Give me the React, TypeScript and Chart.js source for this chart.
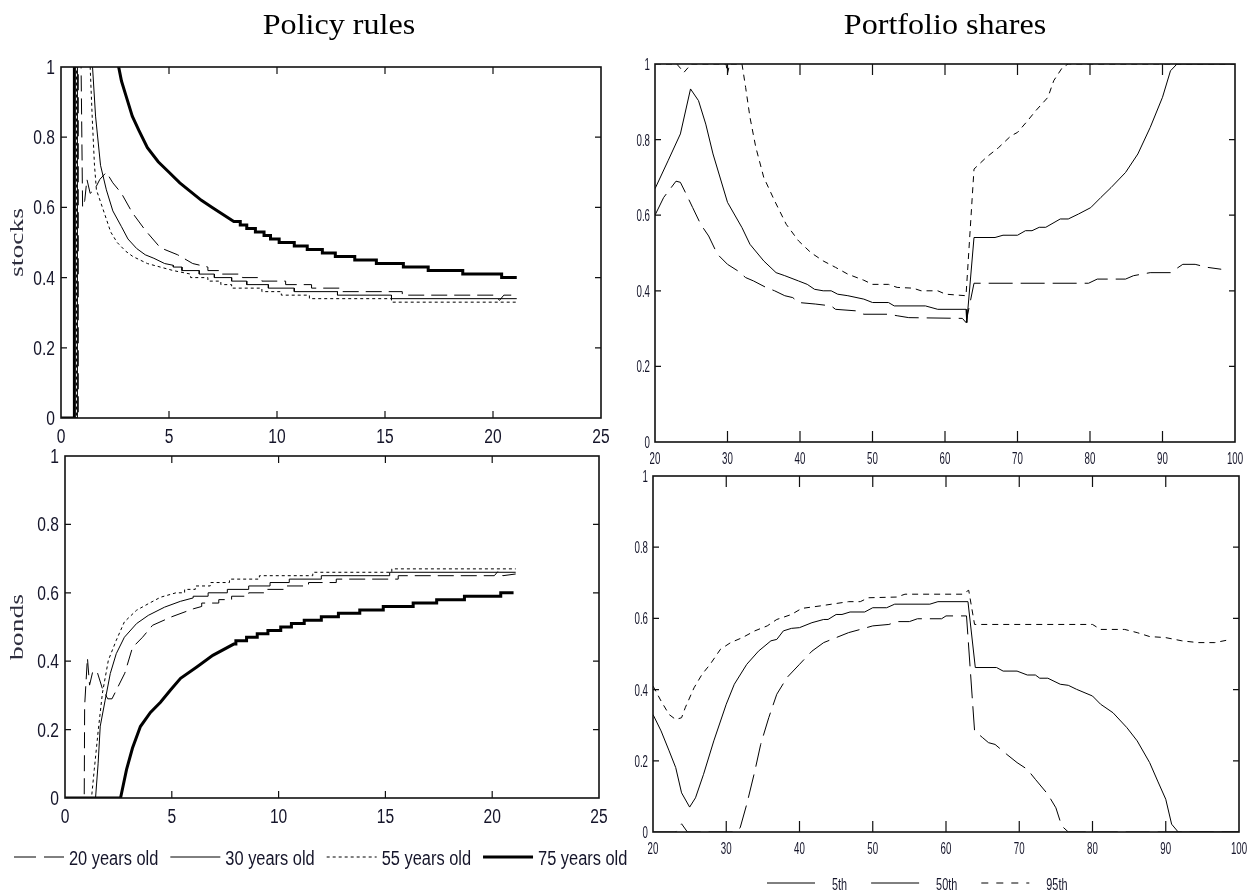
import React, { useEffect, useRef } from "react";
import { Chart, registerables } from "chart.js";

Chart.register(...registerables);

type P = [number, number];

// ---------------- data ----------------
const policyXTicks = [0, 5, 10, 15, 20, 25];
const policyXTickLabels = ["0", "5", "10", "15", "20", "25"];
const ageTicks = [20, 30, 40, 50, 60, 70, 80, 90, 100];
const ageTickLabels = ["20", "30", "40", "50", "60", "70", "80", "90", "100"];
const shareTicks = [0, 0.2, 0.4, 0.6, 0.8, 1];
const shareTickLabels = ["0", "0.2", "0.4", "0.6", "0.8", "1"];

const policyLabels = ["20 years old", "30 years old", "55 years old", "75 years old"];
const percentileLabels = ["5th", "50th", "95th"];
const panelTitles = ["Policy rules", "Portfolio shares"];
const policyYTitles = ["stocks", "bonds"];

const stocks20: P[] = [[0,0],[0.8,0],[0.8,1.05],[0.9,1.05],[0.93,1.0],[1.0,0.6],[1.1,0.62],[1.2,0.68],[1.35,0.64],[1.55,0.65],[1.8,0.68],[2.1,0.7],[2.4,0.67],[2.8,0.64],[3.3,0.585],[3.9,0.535],[4.6,0.485],[5.4,0.465],[6.1,0.44],[6.8,0.43],[6.8,0.42],[7.4,0.42],[7.4,0.41],[8.4,0.41],[8.4,0.4],[9.3,0.4],[9.3,0.39],[10.4,0.39],[10.4,0.38],[11.6,0.38],[11.6,0.37],[13.0,0.37],[13.0,0.36],[15.8,0.36],[15.8,0.35],[20.1,0.35],[20.3,0.335],[20.5,0.35],[21.1,0.35]];
const stocks30: P[] = [[0,0],[0.76,0],[0.76,1.05],[1.4,1.05],[1.46,1.0],[1.6,0.86],[1.83,0.72],[2.1,0.65],[2.4,0.59],[2.8,0.545],[3.1,0.51],[3.5,0.483],[3.9,0.465],[4.3,0.455],[4.8,0.44],[5.2,0.435],[5.2,0.43],[5.6,0.43],[5.6,0.42],[6.4,0.42],[6.4,0.41],[7.1,0.41],[7.1,0.4],[7.9,0.4],[7.9,0.39],[8.6,0.39],[8.6,0.38],[9.6,0.38],[9.6,0.37],[10.8,0.37],[10.8,0.36],[12.8,0.36],[12.8,0.35],[15.3,0.35],[15.3,0.34],[21.1,0.34]];
const stocks55: P[] = [[0,0],[0.72,0],[0.72,1.05],[1.3,1.05],[1.35,1.0],[1.45,0.85],[1.55,0.72],[1.64,0.65],[2.0,0.585],[2.3,0.53],[2.6,0.5],[3.0,0.475],[3.33,0.46],[4.0,0.44],[4.6,0.43],[5.2,0.42],[6.0,0.41],[6.0,0.4],[6.8,0.4],[6.8,0.39],[7.4,0.39],[7.4,0.38],[7.9,0.38],[7.9,0.37],[9.3,0.37],[9.3,0.36],[10.2,0.36],[10.2,0.35],[11.5,0.35],[11.5,0.34],[15.3,0.34],[15.3,0.33],[21.1,0.33]];
const stocks75: P[] = [[0,0],[0.62,0],[0.62,1.05],[2.6,1.05],[2.67,1.0],[2.8,0.96],[3.0,0.92],[3.3,0.86],[3.6,0.82],[4.0,0.77],[4.5,0.73],[5.0,0.7],[5.5,0.67],[6.0,0.645],[6.5,0.62],[7.0,0.6],[7.5,0.58],[8.0,0.56],[8.3,0.56],[8.3,0.55],[8.6,0.55],[8.6,0.54],[9.0,0.54],[9.0,0.53],[9.4,0.53],[9.4,0.52],[9.7,0.52],[9.7,0.51],[10.1,0.51],[10.1,0.5],[10.8,0.5],[10.8,0.49],[11.4,0.49],[11.4,0.48],[12.1,0.48],[12.1,0.47],[12.7,0.47],[12.7,0.46],[13.6,0.46],[13.6,0.45],[14.6,0.45],[14.6,0.44],[15.85,0.44],[15.85,0.43],[17.0,0.43],[17.0,0.42],[18.6,0.42],[18.6,0.41],[20.4,0.41],[20.4,0.4],[21.1,0.4]];

const bonds20: P[] = [[0,0],[0.9,0],[0.92,0.27],[1.05,0.41],[1.15,0.33],[1.3,0.37],[1.5,0.37],[1.75,0.32],[2.0,0.29],[2.2,0.29],[2.4,0.315],[2.8,0.365],[3.16,0.44],[3.63,0.47],[4.1,0.505],[5.0,0.53],[6.0,0.553],[6.4,0.56],[6.4,0.57],[7.2,0.57],[7.2,0.58],[7.8,0.58],[7.8,0.59],[8.6,0.59],[8.6,0.6],[9.4,0.6],[9.4,0.61],[10.3,0.61],[10.3,0.62],[11.4,0.62],[11.4,0.63],[12.7,0.63],[12.7,0.64],[15.6,0.64],[15.6,0.65],[20.1,0.65],[20.3,0.665],[20.5,0.65],[21.1,0.655]];
const bonds30: P[] = [[0,0],[1.43,0],[1.55,0.1],[1.65,0.21],[1.88,0.286],[2.12,0.364],[2.4,0.422],[2.78,0.47],[3.35,0.51],[3.9,0.534],[4.66,0.558],[5.4,0.575],[6.0,0.585],[6.0,0.59],[6.7,0.59],[6.7,0.6],[7.6,0.6],[7.6,0.61],[8.6,0.61],[8.6,0.62],[9.6,0.62],[9.6,0.63],[10.5,0.63],[10.5,0.64],[12.0,0.64],[12.0,0.65],[15.2,0.65],[15.2,0.66],[21.1,0.66]];
const bonds55: P[] = [[0,0],[1.24,0],[1.37,0.083],[1.56,0.2],[1.75,0.306],[2.03,0.403],[2.4,0.461],[2.78,0.515],[3.35,0.549],[3.9,0.568],[4.47,0.587],[5.2,0.6],[5.6,0.6],[5.6,0.61],[6.1,0.61],[6.1,0.62],[6.8,0.62],[6.8,0.63],[7.7,0.63],[7.7,0.64],[9.1,0.64],[9.1,0.65],[11.6,0.65],[11.6,0.66],[15.3,0.66],[15.3,0.67],[21.1,0.67]];
const bonds75: P[] = [[0,0],[2.6,0],[2.88,0.083],[3.16,0.146],[3.53,0.209],[4.0,0.25],[4.47,0.28],[4.94,0.316],[5.41,0.35],[6.17,0.383],[6.92,0.417],[7.9,0.45],[8.0,0.45],[8.0,0.46],[8.5,0.46],[8.5,0.47],[9.0,0.47],[9.0,0.48],[9.5,0.48],[9.5,0.49],[10.1,0.49],[10.1,0.5],[10.6,0.5],[10.6,0.51],[11.2,0.51],[11.2,0.52],[12.0,0.52],[12.0,0.53],[12.8,0.53],[12.8,0.54],[13.8,0.54],[13.8,0.55],[14.9,0.55],[14.9,0.56],[16.3,0.56],[16.3,0.57],[17.4,0.57],[17.4,0.58],[18.7,0.58],[18.7,0.59],[20.4,0.59],[20.4,0.6],[21.0,0.6]];

const p5Stocks: P[] = [[20,0.6],[21.2,0.647],[22.9,0.69],[23.5,0.687],[24.3,0.656],[25.2,0.62],[26.3,0.576],[27.4,0.545],[28.6,0.497],[30,0.47],[31.4,0.453],[32.5,0.435],[33.6,0.426],[35.3,0.409],[36.5,0.4],[37.9,0.387],[39,0.382],[39.8,0.369],[42.1,0.365],[44.3,0.36],[44.9,0.351],[47.7,0.347],[48.8,0.338],[52.2,0.338],[53.4,0.334],[55,0.329],[62.4,0.327],[62.9,0.316],[64,0.42],[79.8,0.42],[81,0.431],[84.9,0.431],[86,0.44],[88.3,0.448],[91.1,0.448],[92.8,0.47],[94.5,0.47],[96.2,0.462],[98.1,0.457]];
const p50Stocks: P[] = [[20,0.67],[21.8,0.744],[23.5,0.815],[24.9,0.934],[26,0.903],[27,0.841],[28,0.762],[30,0.634],[32,0.567],[33.1,0.523],[35,0.479],[36.7,0.448],[37.9,0.44],[39.8,0.426],[41,0.417],[42,0.404],[43.2,0.4],[44.3,0.4],[45.2,0.391],[46.6,0.387],[48.8,0.378],[50,0.369],[52.2,0.369],[53,0.36],[57.3,0.36],[59,0.351],[62.9,0.351],[63,0.316],[64,0.541],[66.9,0.541],[68,0.547],[70,0.547],[71.1,0.559],[72,0.559],[73,0.568],[73.9,0.568],[75.9,0.59],[77,0.59],[78.4,0.603],[80.1,0.62],[81.5,0.647],[82.9,0.673],[84.9,0.713],[86.6,0.762],[88.3,0.832],[90,0.912],[91.1,0.982],[92,1.0],[100,1.0]];
const p95Stocks: P[] = [[20,1.0],[23,1.0],[24,0.978],[25,1.0],[29.8,1.0],[30,0.975],[30.3,1.0],[32,1.0],[32.5,0.938],[33.1,0.859],[33.9,0.78],[35,0.7],[36.5,0.638],[38.1,0.576],[39.8,0.532],[41.5,0.501],[43.2,0.479],[44.9,0.462],[46.6,0.444],[48.8,0.428],[50,0.417],[52.2,0.417],[53.4,0.409],[55.6,0.407],[56.7,0.4],[59,0.4],[60.1,0.391],[62.9,0.387],[64,0.722],[65.7,0.753],[67.4,0.779],[69.1,0.81],[70,0.819],[71.4,0.85],[72.5,0.876],[74.2,0.912],[75,0.956],[76.2,0.991],[77,1.0],[100,1.0]];

const p5Bonds: P[] = [[20,0],[23.1,0],[23.9,0.023],[24.7,0],[31.1,0],[31.9,0.012],[32.8,0.078],[33.9,0.171],[34.7,0.246],[35.8,0.321],[36.9,0.387],[38.3,0.434],[40,0.471],[41.7,0.508],[43.3,0.532],[45,0.546],[46.7,0.56],[48.3,0.569],[50,0.579],[52.2,0.583],[53.3,0.591],[55,0.591],[56.1,0.599],[59.4,0.599],[60,0.607],[62.8,0.607],[63.9,0.284],[65,0.265],[65.8,0.251],[66.7,0.246],[68.3,0.218],[69.7,0.195],[71.1,0.176],[72.2,0.148],[73.9,0.106],[75,0.068],[75.8,0.017],[76.7,0],[100,0]];
const p50Bonds: P[] = [[20,0.33],[21.1,0.284],[22.2,0.228],[23.1,0.181],[23.9,0.11],[25,0.07],[25.8,0.096],[26.9,0.162],[28.3,0.256],[30,0.359],[31.1,0.415],[32.8,0.471],[34.4,0.508],[36.1,0.537],[36.9,0.541],[37.8,0.565],[38.9,0.572],[40,0.574],[41.7,0.588],[43.3,0.597],[43.9,0.597],[45,0.611],[45.8,0.611],[46.9,0.618],[48.9,0.618],[50,0.63],[51.9,0.63],[53,0.64],[57.8,0.64],[58.9,0.647],[63,0.647],[64,0.462],[66.9,0.462],[67.8,0.452],[69.7,0.452],[71.1,0.441],[72.2,0.441],[72.8,0.432],[73.9,0.432],[75.6,0.415],[76.7,0.412],[77.8,0.401],[80,0.382],[81.1,0.359],[82.8,0.335],[84.7,0.293],[86.1,0.256],[87.8,0.195],[88.9,0.143],[90,0.092],[90.8,0.022],[91.7,0],[100,0]];
const p95Bonds: P[] = [[20,0.41],[21.1,0.368],[22.2,0.33],[23.1,0.316],[23.9,0.321],[24.4,0.349],[25.6,0.405],[26.7,0.443],[27.8,0.471],[29.2,0.513],[30.6,0.532],[32.2,0.546],[33.9,0.565],[35.6,0.579],[36.9,0.597],[38.9,0.611],[40.3,0.628],[42.8,0.635],[44.4,0.64],[46.7,0.647],[48.3,0.647],[49.4,0.658],[53.3,0.66],[54.4,0.668],[62.2,0.668],[63.1,0.679],[63.9,0.583],[80,0.583],[81.1,0.569],[84.4,0.569],[86.1,0.56],[87.8,0.549],[90,0.546],[92.2,0.537],[94.4,0.532],[96.7,0.532],[98.9,0.541]];

// ---------------- styling / layout ----------------
const W = 1259;
const H = 896;
const SANS = '"Liberation Sans", Arial, sans-serif';
const SERIF = '"Liberation Serif", "Times New Roman", "DejaVu Serif", serif';
const TICK_COLOR = "#15152a";

type Style = { dash: number[]; width: number; legendDash: number[] };
const policyStyles: Style[] = [
  { dash: [16, 7], width: 1, legendDash: [22, 8] },
  { dash: [], width: 1, legendDash: [] },
  { dash: [3, 3], width: 1, legendDash: [3, 3] },
  { dash: [], width: 3, legendDash: [] },
];
const pctStyles: Style[] = [
  { dash: [24, 8], width: 1, legendDash: [] },
  { dash: [], width: 1, legendDash: [] },
  { dash: [6, 5], width: 1, legendDash: [7, 8] },
];

type Rect = { left: number; top: number; right: number; bottom: number };

type PanelSpec = {
  rect: Rect;
  xMin: number;
  xMax: number;
  xTicks: number[];
  xTickLabels: string[];
  yTicks: number[];
  yTickLabels: string[];
  series: P[][];
  labels: string[];
  styles: Style[];
  tickFont: number;
  tickSx: number;
  xLabelDy: number;
  yLabelGap: number;
  yLabelDy: number;
  tickLenX: number;
  tickLenY: number;
  yTitle?: { text: string; x: number };
  title?: { text: string; cx: number; y: number };
  legend?: { x: number; y: number; font: number; sx: number; len: number; gap: number; itemGap: number; textDy: number };
};

function drawText(
  ctx: CanvasRenderingContext2D,
  s: string,
  x: number,
  y: number,
  font: string,
  color: string,
  sx: number,
  align: CanvasTextAlign,
  rot = 0
) {
  ctx.save();
  ctx.translate(x, y);
  if (rot) ctx.rotate(rot);
  ctx.scale(sx, 1);
  ctx.font = font;
  ctx.fillStyle = color;
  ctx.textAlign = align;
  ctx.textBaseline = "alphabetic";
  ctx.fillText(s, 0, 0);
  ctx.restore();
}

function makeDecor(p: PanelSpec) {
  return {
    id: "decor",
    afterDatasetsDraw(chart: any) {
      const ctx: CanvasRenderingContext2D = chart.ctx;
      const a = chart.chartArea;
      const xs = chart.scales.x;
      const ys = chart.scales.y;
      ctx.save();
      ctx.setLineDash([]);
      ctx.strokeStyle = "#111";
      ctx.lineWidth = 1.6;
      ctx.strokeRect(a.left, a.top, a.right - a.left, a.bottom - a.top);
      ctx.lineWidth = 1.2;
      ctx.beginPath();
      xs.ticks.forEach((t: any) => {
        const px = xs.getPixelForValue(t.value);
        if (px <= a.left + 1 || px >= a.right - 1) return;
        ctx.moveTo(px, a.bottom);
        ctx.lineTo(px, a.bottom - p.tickLenX);
        ctx.moveTo(px, a.top);
        ctx.lineTo(px, a.top + p.tickLenX);
      });
      ys.ticks.forEach((t: any) => {
        const py = ys.getPixelForValue(t.value);
        if (py <= a.top + 1 || py >= a.bottom - 1) return;
        ctx.moveTo(a.left, py);
        ctx.lineTo(a.left + p.tickLenY, py);
        ctx.moveTo(a.right, py);
        ctx.lineTo(a.right - p.tickLenY, py);
      });
      ctx.stroke();

      const tf = `${p.tickFont}px ${SANS}`;
      xs.ticks.forEach((t: any, i: number) => {
        const px = xs.getPixelForValue(t.value);
        drawText(ctx, p.xTickLabels[i] ?? String(t.value), px, a.bottom + p.xLabelDy, tf, TICK_COLOR, p.tickSx, "center");
      });
      ys.ticks.forEach((t: any, i: number) => {
        const py = ys.getPixelForValue(t.value);
        drawText(ctx, p.yTickLabels[i] ?? String(t.value), a.left - p.yLabelGap, py + p.yLabelDy, tf, TICK_COLOR, p.tickSx, "right");
      });

      if (p.yTitle) {
        drawText(ctx, p.yTitle.text, p.yTitle.x, (a.top + a.bottom) / 2, `19px ${SERIF}`, "#2e2e3e", 1.45, "center", -Math.PI / 2);
      }
      if (p.title) {
        drawText(ctx, p.title.text, p.title.cx, p.title.y, `30px ${SERIF}`, "#000", 1.07, "center");
      }
      if (p.legend) {
        const lg = p.legend;
        let x = lg.x;
        const font = `${lg.font}px ${SANS}`;
        p.labels.forEach((lab, i) => {
          const st = p.styles[i];
          ctx.save();
          ctx.strokeStyle = "#000";
          ctx.lineWidth = st.width;
          ctx.setLineDash(st.legendDash);
          ctx.beginPath();
          ctx.moveTo(x, lg.y);
          ctx.lineTo(x + lg.len, lg.y);
          ctx.stroke();
          ctx.restore();
          const tx = x + lg.len + lg.gap;
          drawText(ctx, lab, tx, lg.y + lg.textDy, font, TICK_COLOR, lg.sx, "left");
          ctx.font = font;
          const w = ctx.measureText(lab).width * lg.sx;
          x = tx + w + lg.itemGap;
        });
      }
      ctx.restore();
    },
  };
}

function buildChart(canvas: HTMLCanvasElement, p: PanelSpec) {
  const datasets = p.series.map((s, i) => ({
    label: p.labels[i],
    data: s.map(([x, y]) => ({ x, y })),
    borderColor: "#000",
    borderWidth: p.styles[i].width,
    borderDash: p.styles[i].dash,
    borderCapStyle: "butt" as const,
    borderJoinStyle: "miter" as const,
    pointRadius: 0,
    pointHoverRadius: 0,
    fill: false,
    tension: 0,
  }));
  const xt = p.xTicks;
  const yt = p.yTicks;
  return new Chart(canvas, {
    type: "line",
    data: { datasets },
    options: {
      responsive: false,
      animation: false,
      events: [],
      layout: {
        padding: {
          left: p.rect.left,
          top: p.rect.top,
          right: W - p.rect.right,
          bottom: H - p.rect.bottom,
        },
      },
      plugins: {
        legend: { display: false },
        tooltip: { enabled: false },
        title: { display: false },
      },
      scales: {
        x: {
          type: "linear",
          min: p.xMin,
          max: p.xMax,
          grid: { display: false, drawTicks: false },
          border: { display: false },
          ticks: { display: false },
          afterBuildTicks: (s: any) => {
            s.ticks = xt.map((v) => ({ value: v }));
          },
          afterFit: (s: any) => {
            s.height = 0;
          },
        },
        y: {
          type: "linear",
          min: 0,
          max: 1,
          grid: { display: false, drawTicks: false },
          border: { display: false },
          ticks: { display: false },
          afterBuildTicks: (s: any) => {
            s.ticks = yt.map((v) => ({ value: v }));
          },
          afterFit: (s: any) => {
            s.width = 0;
          },
        },
      },
    },
    plugins: [makeDecor(p)],
  } as any);
}

const leftCommon = {
  xMin: 0,
  xMax: 25,
  xTicks: policyXTicks,
  xTickLabels: policyXTickLabels,
  yTicks: shareTicks,
  yTickLabels: shareTickLabels,
  labels: policyLabels,
  styles: policyStyles,
  tickFont: 20,
  tickSx: 0.78,
  xLabelDy: 25,
  yLabelGap: 6,
  yLabelDy: 7,
  tickLenX: 7,
  tickLenY: 6,
};
const rightCommon = {
  xMin: 20,
  xMax: 100,
  xTicks: ageTicks,
  xTickLabels: ageTickLabels,
  yTicks: shareTicks,
  yTickLabels: shareTickLabels,
  labels: percentileLabels,
  styles: pctStyles,
  tickFont: 17,
  tickSx: 0.57,
  xLabelDy: 22,
  yLabelGap: 5,
  yLabelDy: 6,
  tickLenX: 11,
  tickLenY: 6,
};

const panels: PanelSpec[] = [
  {
    ...leftCommon,
    rect: { left: 61, top: 67, right: 601, bottom: 418 },
    series: [stocks20, stocks30, stocks55, stocks75],
    yTitle: { text: policyYTitles[0], x: 23 },
    title: { text: panelTitles[0], cx: 339, y: 34 },
  },
  {
    ...leftCommon,
    rect: { left: 65, top: 456, right: 599, bottom: 798 },
    series: [bonds20, bonds30, bonds55, bonds75],
    yTitle: { text: policyYTitles[1], x: 23 },
    legend: { x: 14, y: 857, font: 20, sx: 0.82, len: 50, gap: 5, itemGap: 12, textDy: 8 },
  },
  {
    ...rightCommon,
    rect: { left: 655, top: 64, right: 1235, bottom: 442 },
    series: [p5Stocks, p50Stocks, p95Stocks],
    title: { text: panelTitles[1], cx: 945, y: 34 },
  },
  {
    ...rightCommon,
    rect: { left: 653, top: 476, right: 1239, bottom: 832 },
    series: [p5Bonds, p50Bonds, p95Bonds],
    legend: { x: 767, y: 883, font: 17, sx: 0.64, len: 48, gap: 17, itemGap: 24, textDy: 6.5 },
  },
];

export default function App() {
  const r0 = useRef<HTMLCanvasElement>(null);
  const r1 = useRef<HTMLCanvasElement>(null);
  const r2 = useRef<HTMLCanvasElement>(null);
  const r3 = useRef<HTMLCanvasElement>(null);
  const refs = [r0, r1, r2, r3];

  useEffect(() => {
    const charts = panels.map((p, i) => buildChart(refs[i].current as HTMLCanvasElement, p));
    return () => charts.forEach((c) => c.destroy());
  }, []);

  return (
    <div style={{ position: "absolute", left: 0, top: 0, width: W, height: H, background: "#fff", overflow: "hidden" }}>
      {refs.map((r, i) => (
        <canvas
          key={i}
          ref={r}
          width={W}
          height={H}
          style={{ position: "absolute", left: 0, top: 0, width: W, height: H }}
        />
      ))}
    </div>
  );
}
